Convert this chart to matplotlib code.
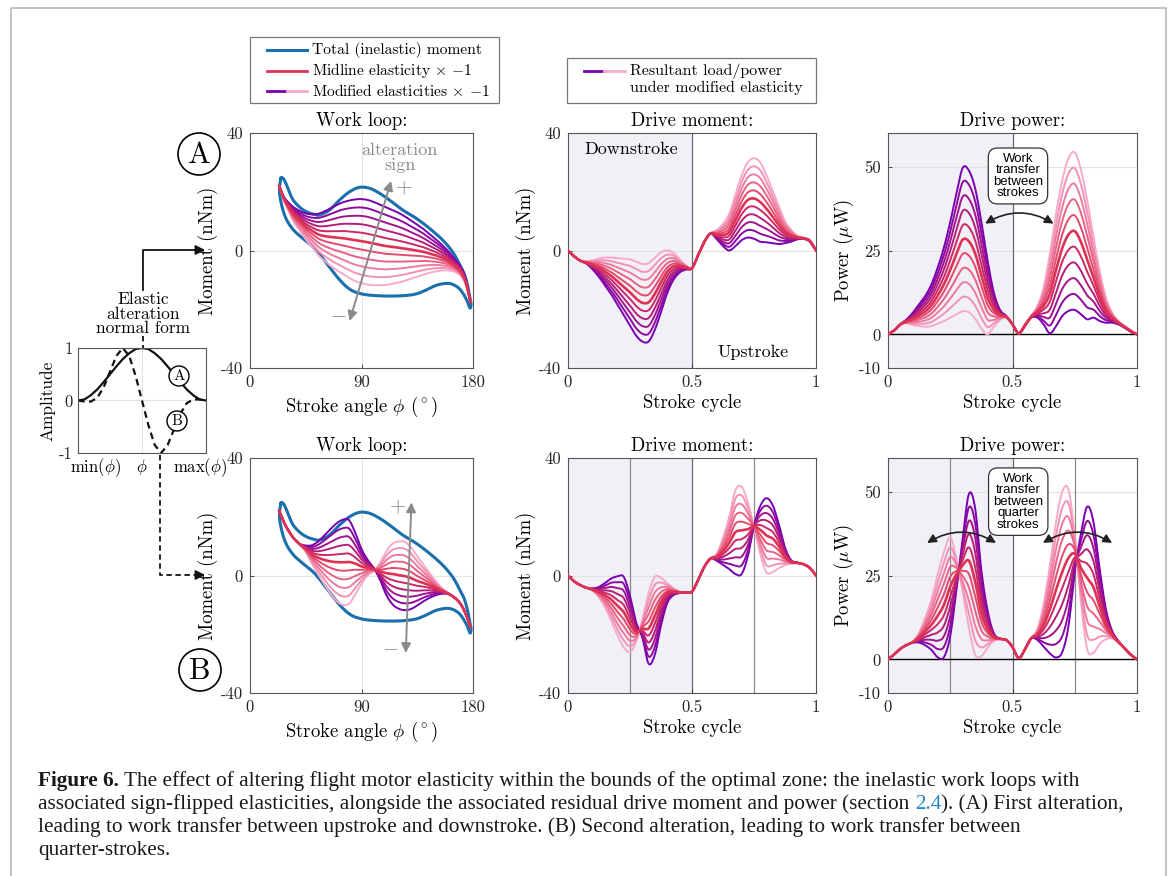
import numpy as np
import matplotlib.pyplot as plt
from matplotlib.patches import Circle, Rectangle

plt.rcParams['font.family'] = ['cmr10', 'DejaVu Serif']
plt.rcParams['mathtext.fontset'] = 'cm'
plt.rcParams['axes.unicode_minus'] = False
plt.rcParams['axes.formatter.use_mathtext'] = True

# ---- data ----
# scale factors applied to the elastic alteration (+1 = purple, -1 = pink)
alteration_levels = [1.0, 0.8, 0.6, 0.4, 0.2, 0.0, -0.2, -0.4, -0.6, -0.8, -1.0]

# total (inelastic) moment loop, stroke angle (deg) vs moment (nNm)
loop_phi = [24.9, 26.8, 28.7, 31.1, 34.8, 40.2, 45.5, 50.9, 56.3, 64.3, 72.3, 80.4, 88.4, 96.4,
            104.5, 112.5, 123.2, 134.0, 144.7, 155.4, 163.4, 168.8, 172.8, 175.5, 177.3, 178.4,
            177.6, 175.5, 172.8, 168.8, 163.4, 158.1, 150.0, 142.0, 134.0, 123.2, 109.8, 96.4,
            88.4, 81.7, 75.0, 67.5, 59.5, 51.5, 43.5, 35.5, 29.5, 25.8, 23.8]
loop_moment = [24.5, 24.5, 23.1, 20.6, 17.2, 14.7, 13.2, 12.4, 12.1, 13.8, 17.2, 20.0, 21.5, 21.2,
               19.5, 17.2, 13.8, 11.0, 7.6, 3.6, -0.4, -4.4, -7.8, -11.7, -15.7, -18.2,
               -19.6, -17.4, -15.2, -12.9, -11.5, -11.2, -11.9, -13.5, -14.8, -15.4, -15.5, -15.2,
               -14.6, -13.5, -11.2, -7.5, -3.0, 1.0, 3.8, 6.8, 10.5, 15.0, 20.0]

# elasticity x -1 curves over stroke angle
phi_grid = [23.5, 27, 30, 35, 40, 45, 50, 55, 60, 65, 70, 75, 80, 85, 90, 95, 100, 105, 110,
            115, 120, 125, 130, 135, 140, 145, 150, 155, 160, 165, 170, 174, 178]
elastA_pos = [22, 18.5, 16.8, 14.8, 13.5, 12.6, 12.3, 12.5, 13.3, 14.4, 15.5, 16.4, 17, 17.4, 17.5,
              17.2, 16.5, 15.6, 14.7, 13.8, 12.8, 11.6, 10.2, 8.8, 7.3, 5.5, 3.8, 1.9, -0.2, -2.8,
              -5.5, -9.5, -17.5]
elastA_neg = [22, 17.5, 14.5, 10, 6.8, 3.8, 1.2, -1.5, -3.5, -5.2, -6.7, -8, -9.3, -10.4, -11.1,
              -11.6, -11.8, -11.8, -11.7, -11.3, -10.9, -10.3, -9.6, -8.9, -8.2, -7.6, -7.1, -6.8,
              -6.8, -7.2, -8.6, -11.5, -17.5]
elastB_pos = [22, 18.5, 16, 12.8, 10.8, 10.2, 10.3, 11.6, 13.6, 15.8, 17.8, 19, 18.8, 14.5, 9, 5.3,
              2.5, -1.5, -6.6, -9.8, -11.3, -11.8, -11.4, -10.2, -8.8, -7.6, -6.7, -6.2, -6.3, -7.5,
              -9.7, -13, -17.5]
elastB_neg = [22, 18.5, 16, 12.8, 10.6, 8, 4, 0.5, -3, -6.2, -8.7, -10, -9.6, -6.4, -2.8, 0, 1.6,
              4.3, 8.2, 10.8, 11.6, 11.4, 9.6, 6.5, 3.7, 0.8, -2, -4.3, -6, -7.5, -9.7, -13, -17.5]

# drive moment / power over the stroke cycle (samples every 0.025)
stroke_cycle = np.arange(41) / 40
momentA_pos = [0, -2, -3.5, -4.5, -6.5, -9, -12, -15, -18.5, -22, -25.5, -29, -31, -31, -27, -21,
               -14.5, -10, -7.5, -6.5, -6, -1.5, 3, 5.8, 3.8, 1.5, 0, 1.5, 3.5, 4.4, 4, 3, 2.8,
               2.5, 2.2, 2.5, 3, 3.8, 4, 3, 0]
momentA_neg = [0, -2, -3.5, -3.7, -3.3, -2.7, -2.4, -2.4, -2.6, -2.8, -3.0, -3.8, -4.6, -4.3, -2.5,
               -0.6, 0, -0.8, -3, -5, -6, -1.5, 3, 5.8, 7, 9, 12.5, 19, 25.5, 30, 31.4, 30, 25.7,
               20.5, 15, 10, 7, 5, 4.3, 3.5, 0]
momentB_pos = [0, -2, -3.3, -4.2, -4.4, -3.9, -2.5, -1, -0.3, -0.5, -7, -16, -21.2, -30, -27, -17,
               -9.4, -6.7, -6, -5.7, -5.5, -1.5, 3, 5.8, 5, 3.6, 2.2, 0.5, 0.5, 6.5, 17, 23.6, 26.3,
               24, 17.5, 9.5, 5.2, 4.4, 3.8, 2.6, 0]
momentB_neg = [0, -2, -3.3, -4.2, -5.2, -7.5, -11, -15.5, -20.5, -24.5, -26, -22.5, -15, -6, -0.5,
               -0.8, -2.6, -4.3, -5.5, -5.8, -5.5, -1.5, 3, 5.8, 7.5, 12.8, 20, 29, 30.2, 25, 16.5,
               7.5, 1, 1.2, 2.5, 3.5, 4, 4.2, 3.8, 2.6, 0]
powerA_pos = [0, 1.2, 3, 4.5, 6.5, 9, 11.5, 15, 20, 26, 33.5, 42, 49.6, 48.8, 43.5, 33.5, 22, 12.5,
              7.3, 5.5, 3, 0.3, 2.5, 5, 5, 3, 0.3, 2.5, 5.5, 7, 7.3, 6, 4.5, 5, 4, 3.5, 3.5, 3, 2,
              0.8, 0]
powerA_neg = [0, 1.2, 3, 3.3, 2.8, 2.5, 2.3, 2.5, 3.2, 4, 5, 6, 6.9, 6.6, 4.7, 1.8, 0, 2.3, 4.3, 5,
              3, 0.3, 3, 5.5, 8.5, 14, 24, 36, 46, 52.5, 54.2, 49, 40, 29, 19, 11, 6.5, 4, 2.5,
              1.2, 0]
powerB_pos = [0, 1.5, 3.2, 4.3, 5, 5, 4.2, 2.8, 0.6, 0.7, 7, 20.8, 36, 49.3, 45, 26.5, 14.5, 7.8,
              6.2, 5.8, 3.6, 0.4, 3, 6.3, 5.8, 3.8, 1.8, 0.6, 2.2, 10, 26, 37.5, 45.5, 41, 27, 15,
              8.5, 5.5, 3.3, 1.4, 0]
powerB_neg = [0, 1.5, 3.2, 4.3, 5.3, 8, 12.5, 18, 25.5, 32, 36.4, 30, 20, 9.5, 1.4, 1.0, 3.5, 5.5,
              6, 5.8, 3.8, 0.4, 3, 6.3, 9, 16.5, 28, 41, 50, 50.5, 37, 17, 3, 2, 4.6, 6, 6.2, 5,
              3.3, 1.4, 0]

# elastic alteration normal forms (inset)
norm_pos = np.arange(21) / 20
normA = [0, .02, .1, .21, .35, .5, .65, .79, .9, .98, 1, .98, .9, .79, .65, .5, .35, .21, .1, .02, 0]
normB = [0, -.02, -.02, .05, .25, .55, .85, 1.0, .85, .47, 0, -.47, -.85, -1.0, -.85, -.55, -.25,
         -.05, .02, .02, 0]
norm_ticks = ['min($\\phi$)', '$\\phi$', 'max($\\phi$)']

BLUE = '#1a6fad'
PURPLE = np.array([120, 0, 178]) / 255
RED = np.array([222, 50, 85]) / 255
PINK = np.array([248, 170, 205]) / 255
GRAY = '#8a8a8a'


def level_color(k):
    if k >= 0:
        return RED + (PURPLE - RED) * k
    return RED + (PINK - RED) * (-k)


def smooth(x, y, n=10, closed=False):
    # Catmull-Rom through the read points
    pts = np.column_stack([x, y]).astype(float)
    if closed:
        P = np.vstack([pts[-1], pts, pts[0], pts[1]])
    else:
        P = np.vstack([2 * pts[0] - pts[1], pts, 2 * pts[-1] - pts[-2]])
    s = np.linspace(0, 1, n, endpoint=False)[:, None]
    out = []
    for i in range(1, len(P) - 2):
        p0, p1, p2, p3 = P[i - 1], P[i], P[i + 1], P[i + 2]
        out.append(0.5 * (2 * p1 + (-p0 + p2) * s + (2 * p0 - 5 * p1 + 4 * p2 - p3) * s ** 2
                          + (-p0 + 3 * p1 - 3 * p2 + p3) * s ** 3))
    out.append(P[-2][None])
    out = np.vstack(out)
    return out[:, 0], out[:, 1]


def draw_family(ax, x, pos, neg):
    pos = np.asarray(pos, float)
    neg = np.asarray(neg, float)
    mid = (pos + neg) / 2
    half = (pos - neg) / 2
    for k in sorted(alteration_levels, key=lambda v: (-abs(v), v)):
        xs, ys = smooth(x, mid + k * half)
        ax.plot(xs, ys, color=level_color(k), lw=1.9 if k == 0 else 1.4, zorder=3)


def style(ax):
    for sp in ax.spines.values():
        sp.set_color('#555555')
        sp.set_linewidth(0.8)
    ax.tick_params(direction='in', length=3, width=0.6, colors='#333333', labelsize=12, pad=5)
    for lab in ax.get_xticklabels() + ax.get_yticklabels():
        lab.set_color('#262626')


W, H = 1171, 876
fig = plt.figure(figsize=(W / 100, H / 100), dpi=100)


def px_axes(x0, y0, x1, y1):
    return fig.add_axes([x0 / W, 1 - y1 / H, (x1 - x0) / W, (y1 - y0) / H])


rows = [(133, 368), (458, 693)]
elastic = [(elastA_pos, elastA_neg), (elastB_pos, elastB_neg)]
moments = [(momentA_pos, momentA_neg), (momentB_pos, momentB_neg)]
powers = [(powerA_pos, powerA_neg), (powerB_pos, powerB_neg)]
axes = []
for r, (y0, y1) in enumerate(rows):
    # work loop
    ax = px_axes(250, y0, 473, y1)
    ax.axhline(0, color='#e4e4e4', lw=0.8, zorder=0)
    ax.axvline(90, color='#e4e4e4', lw=0.8, zorder=0)
    lx, ly = smooth(loop_phi, loop_moment, n=8, closed=True)
    ax.plot(lx, ly, color=BLUE, lw=2.2, zorder=2)
    draw_family(ax, phi_grid, *elastic[r])
    ax.set_xlim(0, 180)
    ax.set_ylim(-40, 40)
    ax.set_xticks([0, 90, 180], ['0', '90', '180'])
    ax.set_yticks([-40, 0, 40], ['-40', '0', '40'])
    ax.set_title('Work loop:', fontsize=13.5, pad=5)
    ax.set_xlabel('Stroke angle $\\phi$ ($^\\circ$)', fontsize=13.5, labelpad=3)
    ax.set_ylabel('Moment (nNm)', fontsize=13.5, labelpad=2)
    style(ax)
    axes.append(ax)

    # drive moment
    ax = px_axes(568, y0, 816, y1)
    ax.axvspan(0, 0.5, color='#f0f0f6', zorder=0)
    ax.axhline(0, color='#e2e2e2', lw=0.8, zorder=1)
    ax.axvline(0.5, color='#6a6a6a', lw=0.9, zorder=1)
    if r == 1:
        for q in (0.25, 0.75):
            ax.axvline(q, color='#8a8a8a', lw=0.9, zorder=1)
    draw_family(ax, stroke_cycle, *moments[r])
    ax.set_xlim(0, 1)
    ax.set_ylim(-40, 40)
    ax.set_xticks([0, 0.5, 1], ['0', '0.5', '1'])
    ax.set_yticks([-40, 0, 40], ['-40', '0', '40'])
    ax.set_title('Drive moment:', fontsize=13.5, pad=5)
    ax.set_xlabel('Stroke cycle', fontsize=13.5, labelpad=3)
    ax.set_ylabel('Moment (nNm)', fontsize=13.5, labelpad=2)
    style(ax)
    if r == 0:
        ax.text(0.255, 34.5, 'Downstroke', ha='center', va='center', fontsize=13)
        ax.text(0.745, -34.8, 'Upstroke', ha='center', va='center', fontsize=13)
    axes.append(ax)

    # drive power
    ax = px_axes(888, y0, 1137, y1)
    ax.axvspan(0, 0.5, color='#f0f0f6', zorder=0)
    for g in (25, 50):
        ax.axhline(g, color='#e2e2e2', lw=0.8, zorder=1)
    ax.axhline(0, color='black', lw=1.0, zorder=2)
    ax.axvline(0.5, color='#6a6a6a', lw=0.9, zorder=1)
    if r == 1:
        for q in (0.25, 0.75):
            ax.axvline(q, color='#8a8a8a', lw=0.9, zorder=1)
    draw_family(ax, stroke_cycle, *powers[r])
    ax.set_xlim(0, 1)
    ax.set_ylim(-10, 60)
    ax.set_xticks([0, 0.5, 1], ['0', '0.5', '1'])
    ax.set_yticks([-10, 0, 25, 50], ['-10', '0', '25', '50'])
    ax.set_title('Drive power:', fontsize=13.5, pad=5)
    ax.set_xlabel('Stroke cycle', fontsize=13.5, labelpad=3)
    ax.set_ylabel('Power ($\\mu$W)', fontsize=13.5, labelpad=2)
    style(ax)
    axes.append(ax)

# annotations in the panels
wlA, dmA, pwA, wlB, dmB, pwB = axes
arrow_kw = dict(arrowstyle='<|-|>', color=GRAY, lw=1.4, mutation_scale=14, shrinkA=0, shrinkB=0)
wlA.annotate('', xy=(113.9, 23.7), xytext=(80.4, -24), arrowprops=arrow_kw, zorder=5)
wlA.text(121, 31.5, 'alteration\nsign', color=GRAY, ha='center', va='center', fontsize=13,
         linespacing=0.95)
wlA.text(124.5, 21.5, '+', color=GRAY, ha='center', va='center', fontsize=15)
wlA.text(71, -22, '$-$', color=GRAY, ha='center', va='center', fontsize=15)
wlB.annotate('', xy=(130.3, 24.9), xytext=(125.7, -26.4), arrowprops=arrow_kw, zorder=5)
wlB.text(119, 23.5, '+', color=GRAY, ha='center', va='center', fontsize=15)
wlB.text(113.4, -24.7, '$-$', color=GRAY, ha='center', va='center', fontsize=15)

box_kw = dict(boxstyle='round,pad=0.35,rounding_size=0.7', fc='white', ec='#333333', lw=0.9)
pwA.text(0.522, 47.2, 'Work\ntransfer\nbetween\nstrokes', ha='center', va='center', fontsize=9.5,
         family='Liberation Sans', linespacing=0.95, bbox=box_kw, zorder=6)
pwB.text(0.523, 47, 'Work\ntransfer\nbetween\nquarter\nstrokes', ha='center', va='center',
         fontsize=9.5, family='Liberation Sans', linespacing=0.95, bbox=box_kw, zorder=6)
curve_kw = dict(arrowstyle='<|-|>', color='#222222', lw=1.2, mutation_scale=13,
                connectionstyle='arc3,rad=-0.3', shrinkA=0, shrinkB=0)
pwA.annotate('', xy=(0.665, 33), xytext=(0.39, 33), arrowprops=curve_kw, zorder=6)
pwB.annotate('', xy=(0.434, 34.7), xytext=(0.157, 34.7), arrowprops=curve_kw, zorder=6)
pwB.annotate('', xy=(0.9, 34.7), xytext=(0.622, 34.7), arrowprops=curve_kw, zorder=6)

# inset: elastic alteration normal form
ins = px_axes(78, 348, 206, 453)
ins.axhline(0, color='#e4e4e4', lw=0.8, zorder=0)
ins.axvline(0.5, color='#e4e4e4', lw=0.8, zorder=0)
ins.plot(norm_pos, normA, color='#111111', lw=1.6)
ins.plot(norm_pos, normB, color='#111111', lw=1.6, ls=(0, (3, 2)))
ins.set_xlim(0, 1)
ins.set_ylim(-1, 1)
ins.set_xticks([0, 0.5, 1], ['', '', ''])
ins.set_yticks([-1, 0, 1], ['-1', '0', '1'])
ins.set_ylabel('Amplitude', fontsize=12.5, labelpad=2)
style(ins)
ins.tick_params(labelsize=12, pad=4, length=0)
for xpos, lab in zip([0.133, 0.5, 0.953], norm_ticks):
    ins.text(xpos, -1.07, lab, ha='center', va='top', fontsize=12, clip_on=False)

# figure-level overlay in pixel coordinates
ov = fig.add_axes([0, 0, 1, 1])
ov.set_xlim(0, W)
ov.set_ylim(H, 0)
ov.axis('off')
ov.add_patch(Rectangle((11, 8), 1155, 900, fill=False, ec='#bdbdbd', lw=1.3))

# legends
ov.add_patch(Rectangle((250, 37), 249, 66, fc='white', ec='#777777', lw=0.9))
ov.plot([267, 307], [50, 50], color=BLUE, lw=2.2)
ov.plot([267, 307], [71, 71], color=RED, lw=2.0)
ov.plot([267, 287], [91, 91], color=PURPLE, lw=2.0)
ov.plot([287, 307], [91, 91], color=PINK, lw=2.0)
leg_txt = ['Total (inelastic) moment', 'Midline elasticity $\\times$ $-$1',
           'Modified elasticities $\\times$ $-$1']
for yy, t in zip([50, 71, 91], leg_txt):
    ov.text(312, yy, t, va='center', ha='left', fontsize=11.2)
ov.add_patch(Rectangle((567, 58), 249, 45, fc='white', ec='#777777', lw=0.9))
ov.plot([584, 604], [71, 71], color=PURPLE, lw=2.0)
ov.plot([604, 625], [71, 71], color=PINK, lw=2.0)
ov.text(630, 71, 'Resultant load/power', va='center', ha='left', fontsize=11.5)
ov.text(630, 88, 'under modified elasticity', va='center', ha='left', fontsize=11.5)

# circled row labels
for (cx, cy), lab in zip([(199, 154), (200, 670)], ['A', 'B']):
    ov.add_patch(Circle((cx, cy), 21, fc='white', ec='black', lw=1.2))
    ov.text(cx, cy + 1, lab, ha='center', va='center', fontsize=22)
for (cx, cy), lab in zip([(179, 376), (177, 421)], ['A', 'B']):
    ov.add_patch(Circle((cx, cy), 10, fc='white', ec='black', lw=1.0))
    ov.text(cx, cy + 0.5, lab, ha='center', va='center', fontsize=11)

# links from the inset to the work loops
ov.text(143, 314, 'Elastic\nalteration\nnormal form', ha='center', va='center', fontsize=12.5,
        linespacing=0.95)
ov.plot([143, 143, 200], [290, 250, 250], color='#111111', lw=1.3)
ov.annotate('', xy=(208, 250), xytext=(195, 250),
            arrowprops=dict(arrowstyle='-|>', color='#111111', lw=1.3, mutation_scale=14))
ov.plot([143, 143], [336, 348], color='#111111', lw=1.3, ls=(0, (3, 2)))
ov.plot([160, 160, 198], [455, 575, 575], color='#111111', lw=1.3, ls=(0, (3, 2)))
ov.annotate('', xy=(208, 575), xytext=(195, 575),
            arrowprops=dict(arrowstyle='-|>', color='#111111', lw=1.3, mutation_scale=14))

# caption
cap_kw = dict(family='Liberation Serif', fontsize=15.3, color='#1a1a1a')
c1 = ov.text(38, 786, 'Figure 6.', fontweight='bold', va='baseline', **cap_kw)
ov.annotate(' The effect of altering flight motor elasticity within the bounds of the optimal zone: '
            'the inelastic work loops with', xy=(1, 0), xycoords=c1, va='bottom', **cap_kw)
c2 = ov.text(38, 809, 'associated sign-flipped elasticities, alongside the associated residual drive '
             'moment and power (section ', va='baseline', **cap_kw)
c3 = ov.annotate('2.4', xy=(1, 0), xycoords=c2, va='bottom', **dict(cap_kw, color='#2a86c6'))
ov.annotate('). (A) First alteration,', xy=(1, 0), xycoords=c3, va='bottom', **cap_kw)
ov.text(38, 832, 'leading to work transfer between upstroke and downstroke. (B) Second alteration, '
        'leading to work transfer between', va='baseline', **cap_kw)
ov.text(38, 855, 'quarter-strokes.', va='baseline', **cap_kw)

fig.savefig('out.png', dpi=100)
